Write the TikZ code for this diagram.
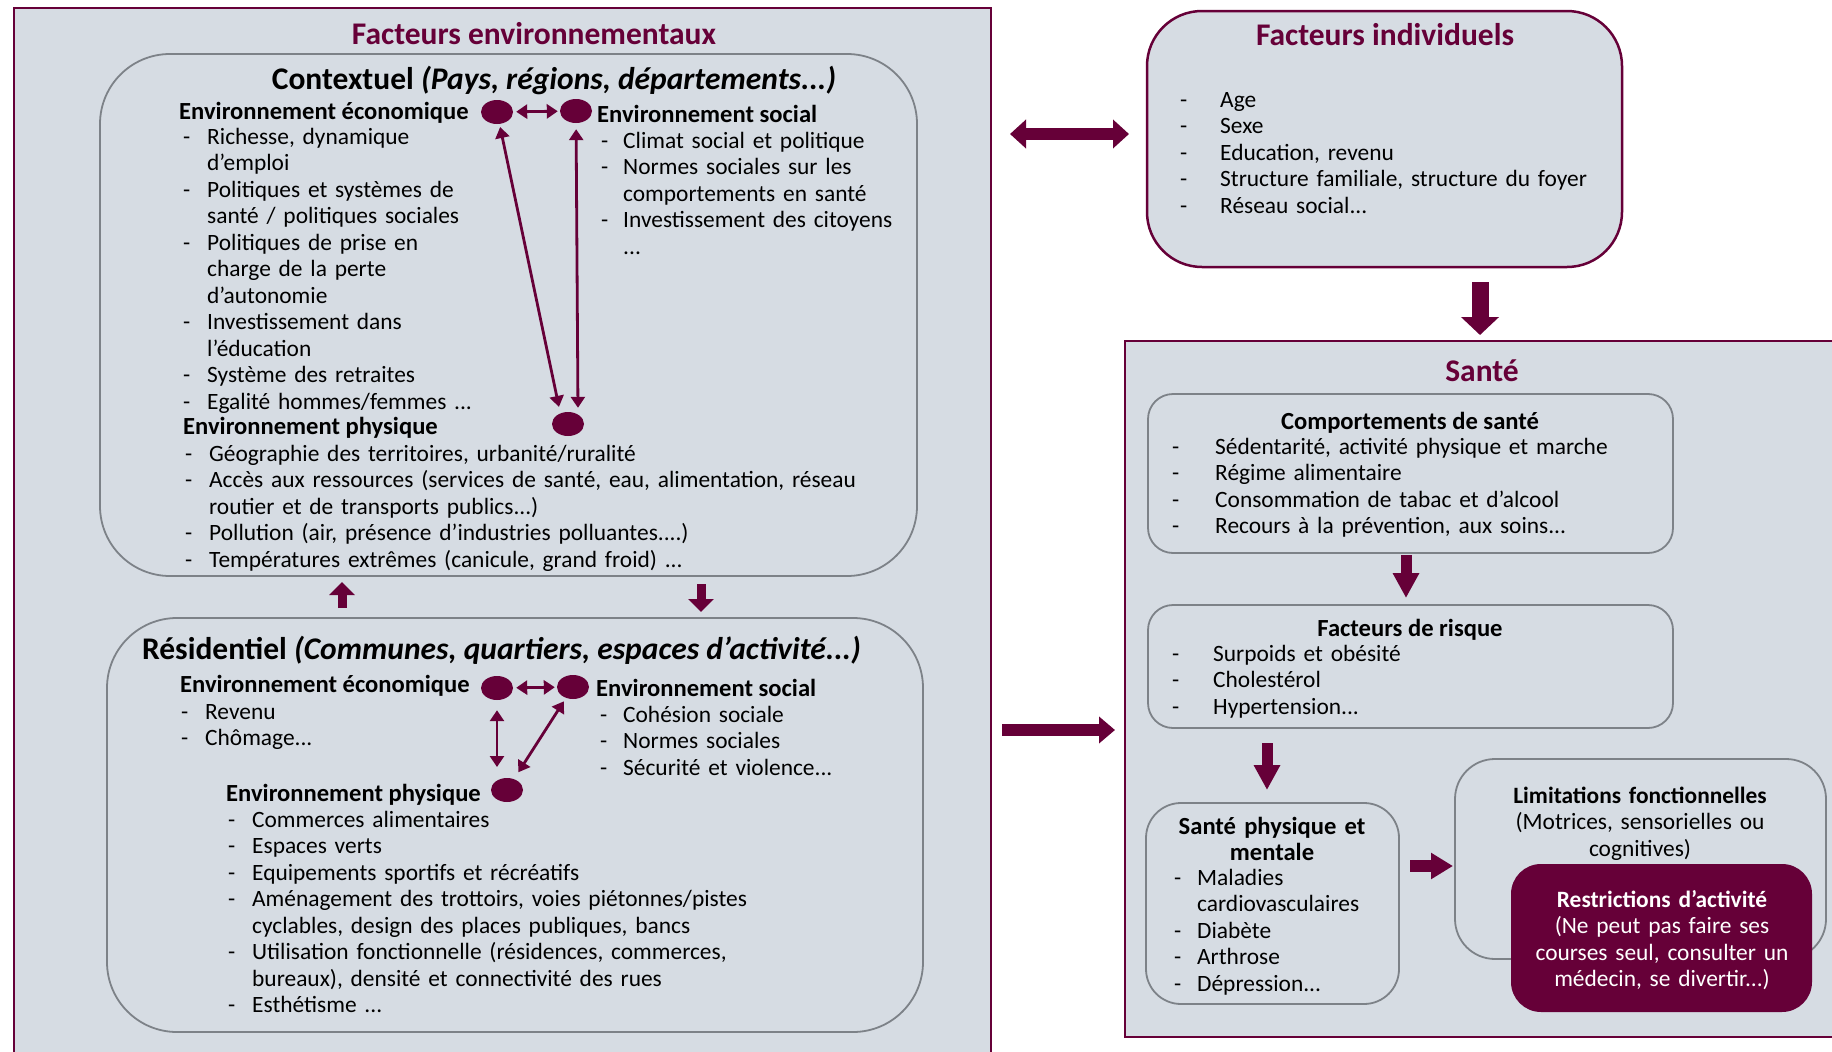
\documentclass[tikz,border=0pt]{standalone}
\usepackage{fontspec}
\setmainfont{Carlito}
\usetikzlibrary{arrows.meta,shapes.geometric}
\definecolor{bordeaux}{RGB}{102,0,56}
\definecolor{fond}{RGB}{214,220,227}
\definecolor{trait}{RGB}{125,130,136}
\newcommand{\itm}[1][24pt]{\makebox[#1][l]{-}\ignorespaces}
\newcommand{\suite}[1][24pt]{\hspace*{#1}\ignorespaces}

\begin{document}
\begin{tikzpicture}[x=1pt,y=-1pt,
    cadre/.style={draw=bordeaux,line width=2.5pt,fill=fond,inner sep=0},
    bulle/.style={draw=trait,line width=1.8pt,fill=fond,inner sep=0},
    point/.style={ellipse,fill=bordeaux,minimum width=32pt,minimum height=24pt,inner sep=0},
    titre/.style={anchor=base,text=bordeaux,font=\fontsize{31.5}{36}\selectfont\bfseries},
    grand/.style={anchor=base,font=\fontsize{31.5}{36}\selectfont\bfseries},
    entete/.style={anchor=base west,inner sep=0,font=\fontsize{24.6}{26.5}\selectfont\bfseries},
    liste/.style={anchor=base west,inner sep=0,align=left,text width=#1,font=\fontsize{23.4}{26.5}\selectfont},
    centre/.style={anchor=base,inner sep=0,align=center,text width=#1,font=\fontsize{23.4}{26.5}\selectfont},
    fleche/.style={bordeaux,line width=2.8pt,{Triangle[length=11pt,width=14pt]}-{Triangle[length=11pt,width=14pt]}},
    grosse/.style n args={3}{bordeaux,line width=#1,-{Triangle[length=#2,width=#3]}}
]
\useasboundingbox (0,0) rectangle (1832,1052);
\fill[white] (0,0) rectangle (1832,1052);

% facteurs environnementaux
\node[cadre,minimum width=977pt,minimum height=1062pt] (env) at (502.5,539) {};
\node[titre] (tenv) at (534,44) {Facteurs environnementaux};

% contextuel
\node[bulle,rounded corners=70pt,minimum width=817pt,minimum height=522pt] (ctx) at (508.5,315) {};
\node[grand] (tctx) at (554,89) {Contextuel \textit{(Pays, régions, départements...)}};
\node[entete] (hce) at (179,119) {Environnement économique};
\node[liste=320pt] (lce) at (183,144) {\itm Richesse, dynamique\\
  \suite d’emploi\\
  \itm Politiques et systèmes de\\
  \suite santé / politiques sociales\\
  \itm Politiques de prise en\\
  \suite charge de la perte\\
  \suite d’autonomie\\
  \itm Investissement dans\\
  \suite l’éducation\\
  \itm Système des retraites\\
  \itm Egalité hommes/femmes ...};
\node[entete] (hcs) at (597,122) {Environnement social};
\node[liste=320pt] (lcs) at (601,148) {\itm[22pt] Climat social et politique\\
  \itm[22pt] Normes sociales sur les\\
  \suite[22pt] comportements en santé\\
  \itm[22pt] Investissement des citoyens\\
  \suite[22pt] ...};
\node[entete] (hcp) at (183,434) {Environnement physique};
\node[liste=720pt] (lcp) at (185,461) {\itm Géographie des territoires, urbanité/ruralité\\
  \itm Accès aux ressources (services de santé, eau, alimentation, réseau\\
  \suite routier et de transports publics...)\\
  \itm Pollution (air, présence d’industries polluantes....)\\
  \itm Températures extrêmes (canicule, grand froid) ...};
\node[point] (ce) at (497,112) {};
\node[point] (cs) at (576,111) {};
\node[point] (cp) at (568,424) {};
\draw[fleche,shorten <=3pt,shorten >=2pt] (ce) -- (cs);
\draw[fleche,shorten <=3pt,shorten >=5pt] (ce) -- ([xshift=-8pt]cp.north);
\draw[fleche,shorten <=6pt,shorten >=4pt] (cs) -- ([xshift=10pt]cp.north);

% entre les deux niveaux
\coordinate (m1) at (342,608);
\coordinate (m2) at (342,582);
\coordinate (d1) at (701,584);
\coordinate (d2) at (701,612);
\draw[grosse={9pt}{13pt}{25pt}] (m1) -- (m2);
\draw[grosse={9pt}{13pt}{25pt}] (d1) -- (d2);

% residentiel
\node[bulle,rounded corners=70pt,minimum width=816pt,minimum height=414pt] (res) at (515,825) {};
\node[grand] (tres) at (501.5,659) {Résidentiel \textit{(Communes, quartiers, espaces d’activité...)}};
\node[entete] (hre) at (180,692) {Environnement économique};
\node[liste=300pt] (lre) at (181,719) {\itm Revenu\\
  \itm Chômage...};
\node[entete] (hrs) at (596,696) {Environnement social};
\node[liste=300pt] (lrs) at (600,722) {\itm[23pt] Cohésion sociale\\
  \itm[23pt] Normes sociales\\
  \itm[23pt] Sécurité et violence...};
\node[entete] (hrp) at (226,801) {Environnement physique};
\node[liste=600pt] (lrp) at (228,827) {\itm Commerces alimentaires\\
  \itm Espaces verts\\
  \itm Equipements sportifs et récréatifs\\
  \itm Aménagement des trottoirs, voies piétonnes/pistes\\
  \suite cyclables, design des places publiques, bancs\\
  \itm Utilisation fonctionnelle (résidences, commerces,\\
  \suite bureaux), densité et connectivité des rues\\
  \itm Esthétisme ...};
\node[point] (re) at (497,688) {};
\node[point] (rs) at (573,687) {};
\node[point] (rp) at (507,790) {};
\draw[fleche,shorten <=3pt,shorten >=2pt] (re) -- (rs);
\draw[fleche,shorten <=10pt,shorten >=23pt] (re) -- (re |- rp);
\draw[fleche,shorten <=4pt,shorten >=8pt] (rs) -- (rp);

% facteurs individuels
\node[cadre,rounded corners=55pt,minimum width=475pt,minimum height=256pt] (ind) at (1384.5,139) {};
\node[titre] (tind) at (1385,45) {Facteurs individuels};
\node[liste=440pt] (lind) at (1180,107) {\itm[40pt] Age\\
  \itm[40pt] Sexe\\
  \itm[40pt] Education, revenu\\
  \itm[40pt] Structure familiale, structure du foyer\\
  \itm[40pt] Réseau social...};
\coordinate (g1) at (1010,134);
\coordinate (g2) at (1129,134);
\draw[bordeaux,line width=12pt,{Triangle[length=16pt,width=28pt]}-{Triangle[length=16pt,width=28pt]}] (g1) -- (g2);
\coordinate (i1) at (1480,282);
\coordinate (i2) at (1480,335);
\draw[grosse={17pt}{18pt}{37pt}] (i1) -- (i2);
\coordinate (e1) at (1002,730);
\coordinate (e2) at (1115,730);
\draw[grosse={12pt}{16pt}{26pt}] (e1) -- (e2);

% sante
\node[cadre,minimum width=720pt,minimum height=696pt] (sante) at (1485,689) {};
\node[titre] (tsan) at (1482,381) {Santé};
\node[bulle,rounded corners=25pt,minimum width=525pt,minimum height=159pt] (comp) at (1410.5,473.5) {};
\node[entete,anchor=base] (hcomp) at (1410,429) {Comportements de santé};
\node[liste=480pt] (lcomp) at (1172,454) {\itm[43pt] Sédentarité, activité physique et marche\\
  \itm[43pt] Régime alimentaire\\
  \itm[43pt] Consommation de tabac et d’alcool\\
  \itm[43pt] Recours à la prévention, aux soins...};
\coordinate (s1) at (1406,555);
\coordinate (s2) at (1406,598);
\draw[grosse={11pt}{25pt}{25pt}] (s1) -- (s2);
\node[bulle,rounded corners=25pt,minimum width=525pt,minimum height=123pt] (risq) at (1410.5,666.5) {};
\node[entete,anchor=base] (hrisq) at (1410,636) {Facteurs de risque};
\node[liste=480pt] (lrisq) at (1172,661) {\itm[41pt] Surpoids et obésité\\
  \itm[41pt] Cholestérol\\
  \itm[41pt] Hypertension...};
\coordinate (s3) at (1267,743);
\coordinate (s4) at (1267,790);
\draw[grosse={11pt}{25pt}{25pt}] (s3) -- (s4);
\node[bulle,rounded corners=35pt,minimum width=253pt,minimum height=201pt] (phys) at (1272.5,903.5) {};
\node[centre=240pt,font=\fontsize{24.6}{26}\selectfont\bfseries] (hphys) at (1272,834) {Santé physique et\\ mentale};
\node[liste=220pt] (lphys) at (1174,885) {\itm[23pt] Maladies\\
  \suite[23pt] cardiovasculaires\\
  \itm[23pt] Diabète\\
  \itm[23pt] Arthrose\\
  \itm[23pt] Dépression...};
\coordinate (s5) at (1410,866);
\coordinate (s6) at (1453,866);
\draw[grosse={12pt}{22pt}{25pt}] (s5) -- (s6);
\node[bulle,rounded corners=40pt,minimum width=371pt,minimum height=200pt] (lim) at (1640.5,859) {};
\node[centre=360pt] (tlim) at (1640,803) {\textbf{Limitations fonctionnelles}\\
  (Motrices, sensorielles ou\\ cognitives)};
\node[fill=bordeaux,rounded corners=30pt,minimum width=301pt,minimum height=148pt,inner sep=0] (restr) at (1661.5,938) {};
\node[centre=290pt,text=white] (trestr) at (1662,907) {\textbf{Restrictions d’activité}\\
  (Ne peut pas faire ses\\ courses seul, consulter un\\ médecin, se divertir...)};
\end{tikzpicture}
\end{document}
